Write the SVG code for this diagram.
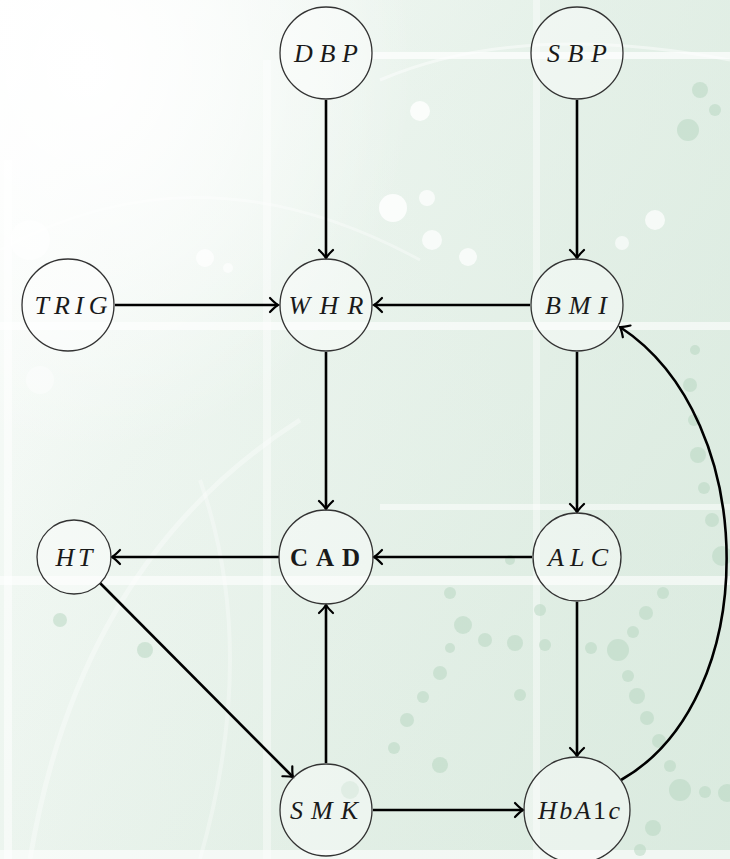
<svg xmlns="http://www.w3.org/2000/svg" width="730" height="859" viewBox="0 0 730 859">
  <defs>
    <linearGradient id="bgGrad" x1="0" y1="0" x2="1" y2="1">
      <stop offset="0" stop-color="#ffffff"/>
      <stop offset="0.35" stop-color="#f0f7f2"/>
      <stop offset="0.7" stop-color="#e6f1e9"/>
      <stop offset="1" stop-color="#dfede3"/>
    </linearGradient>
    <radialGradient id="glow" cx="0.12" cy="0.08" r="0.45">
      <stop offset="0" stop-color="#ffffff" stop-opacity="1"/>
      <stop offset="1" stop-color="#ffffff" stop-opacity="0"/>
    </radialGradient>
    <linearGradient id="rightTint" x1="0" y1="0" x2="1" y2="0">
      <stop offset="0" stop-color="#d4e7da" stop-opacity="0"/>
      <stop offset="1" stop-color="#d4e7da" stop-opacity="0.45"/>
    </linearGradient>
    <marker id="arrow" markerUnits="userSpaceOnUse" markerWidth="18" markerHeight="18" viewBox="-10 -9 12 18" refX="0" refY="0" orient="auto">
      <path d="M -8 -7 Q -3 -1.8 0 0 Q -3 1.8 -8 7" fill="none" stroke="#000" stroke-width="2.2" stroke-linecap="round"/>
    </marker>
  </defs>
  <style>
    .node circle { fill: #ffffff; fill-opacity: 0.4; stroke: #333333; stroke-width: 1.3; }
    .node text { font-family: "Liberation Serif", "DejaVu Serif", serif; font-style: italic; font-size: 26px; fill: #1a1a1a; text-anchor: middle; }
    .node text.bold { font-style: normal; font-weight: bold; font-size: 25px; }
    .up { font-style: normal; }
    .edges path, .edges line { stroke: #000; stroke-width: 2.6; fill: none; marker-end: url(#arrow); }
    .band { fill: #ffffff; }
    .dot { fill: #b6d6c0; }
    .bubble { fill: #ffffff; }
  </style>

  <!-- backdrop -->
  <g id="backdrop">
    <rect x="0" y="0" width="730" height="859" fill="url(#bgGrad)"/>
    <rect x="0" y="0" width="730" height="859" fill="url(#rightTint)"/>
    <rect x="0" y="0" width="730" height="859" fill="url(#glow)"/>
    <!-- light grid bands -->
    <rect class="band" x="370" y="52" width="360" height="7" opacity="0.7"/>
    <rect class="band" x="0" y="322" width="730" height="8" opacity="0.6"/>
    <rect class="band" x="0" y="576" width="730" height="9" opacity="0.6"/>
    <rect class="band" x="380" y="504" width="350" height="6" opacity="0.5"/>
    <rect class="band" x="0" y="850" width="730" height="9" opacity="0.6"/>
    <rect class="band" x="263" y="60" width="8" height="799" opacity="0.4"/>
    <rect class="band" x="533" y="0" width="7" height="859" opacity="0.4"/>
    <rect class="band" x="4" y="160" width="8" height="699" opacity="0.5"/>
    <!-- sweeping arcs -->
    <path d="M 30 859 Q 80 560 300 420" stroke="#ffffff" stroke-width="5" fill="none" opacity="0.35"/>
    <path d="M 200 859 Q 260 650 200 480" stroke="#ffffff" stroke-width="4" fill="none" opacity="0.3"/>
    <path d="M 0 250 Q 200 140 420 260" stroke="#ffffff" stroke-width="3" fill="none" opacity="0.35"/>
    <path d="M 380 80 Q 520 20 730 60" stroke="#ffffff" stroke-width="3" fill="none" opacity="0.45"/>
    <!-- bubbles -->
    <circle class="bubble" cx="420" cy="111" r="10" opacity="0.8"/>
    <circle class="bubble" cx="393" cy="208" r="14" opacity="0.8"/>
    <circle class="bubble" cx="427" cy="198" r="8" opacity="0.7"/>
    <circle class="bubble" cx="432" cy="240" r="10" opacity="0.7"/>
    <circle class="bubble" cx="468" cy="257" r="9" opacity="0.7"/>
    <circle class="bubble" cx="205" cy="258" r="9" opacity="0.7"/>
    <circle class="bubble" cx="228" cy="268" r="5" opacity="0.6"/>
    <circle class="bubble" cx="655" cy="220" r="10" opacity="0.7"/>
    <circle class="bubble" cx="622" cy="243" r="7" opacity="0.6"/>
    <circle class="bubble" cx="30" cy="240" r="20" opacity="0.5"/>
    <circle class="bubble" cx="40" cy="380" r="14" opacity="0.4"/>
    <!-- green dot trails -->
    <g class="dot" opacity="0.5">
      <circle cx="663" cy="593" r="6"/>
      <circle cx="646" cy="613" r="7"/>
      <circle cx="633" cy="632" r="6"/>
      <circle cx="618" cy="650" r="11"/>
      <circle cx="628" cy="676" r="6"/>
      <circle cx="637" cy="696" r="8"/>
      <circle cx="647" cy="718" r="7"/>
      <circle cx="659" cy="741" r="7"/>
      <circle cx="670" cy="766" r="6"/>
      <circle cx="680" cy="790" r="11"/>
      <circle cx="705" cy="792" r="6"/>
      <circle cx="727" cy="793" r="9"/>
      <circle cx="653" cy="828" r="8"/>
      <circle cx="640" cy="850" r="6"/>
      <circle cx="485" cy="640" r="7"/>
      <circle cx="515" cy="643" r="8"/>
      <circle cx="545" cy="645" r="6"/>
      <circle cx="591" cy="648" r="6"/>
      <circle cx="450" cy="593" r="6"/>
      <circle cx="463" cy="625" r="9"/>
      <circle cx="450" cy="648" r="5"/>
      <circle cx="440" cy="673" r="7"/>
      <circle cx="423" cy="697" r="6"/>
      <circle cx="407" cy="720" r="7"/>
      <circle cx="394" cy="748" r="6"/>
      <circle cx="510" cy="560" r="5"/>
      <circle cx="540" cy="610" r="6"/>
      <circle cx="722" cy="556" r="10"/>
      <circle cx="712" cy="520" r="7"/>
      <circle cx="704" cy="488" r="6"/>
      <circle cx="698" cy="455" r="8"/>
      <circle cx="694" cy="420" r="6"/>
      <circle cx="690" cy="385" r="7"/>
      <circle cx="695" cy="350" r="5"/>
      <circle cx="700" cy="90" r="8"/>
      <circle cx="688" cy="130" r="11"/>
      <circle cx="715" cy="110" r="6"/>
      <circle cx="60" cy="620" r="7"/>
      <circle cx="145" cy="650" r="8"/>
      <circle cx="350" cy="790" r="9"/>
      <circle cx="440" cy="765" r="8"/>
      <circle cx="520" cy="695" r="6"/>
    </g>
  </g>

  <!-- connectors -->
  <g id="edges" class="edges">
    <line x1="326" y1="100" x2="326" y2="258"/>
    <line x1="577" y1="100" x2="577" y2="258"/>
    <line x1="115" y1="305" x2="278" y2="305"/>
    <line x1="530" y1="305" x2="374" y2="305"/>
    <line x1="326" y1="352" x2="326" y2="509"/>
    <line x1="577" y1="352" x2="577" y2="512"/>
    <line x1="532" y1="557" x2="374" y2="557"/>
    <line x1="279" y1="557" x2="112" y2="557"/>
    <line x1="100" y1="583" x2="293" y2="777"/>
    <line x1="326" y1="763" x2="326" y2="605"/>
    <line x1="373" y1="810" x2="523" y2="810"/>
    <line x1="577" y1="602" x2="577" y2="756"/>
    <path d="M 621 780 C 762 700, 762 420, 620 327"/>
  </g>

  <!-- nodes -->
  <g id="node-DBP" class="node">
    <circle cx="326" cy="53" r="46"/>
    <text x="326" y="62" textLength="64" lengthAdjust="spacing">DBP</text>
  </g>
  <g id="node-SBP" class="node">
    <circle cx="577" cy="53" r="46"/>
    <text x="577" y="62" textLength="60" lengthAdjust="spacing">SBP</text>
  </g>
  <g id="node-TRIG" class="node">
    <circle cx="68" cy="305" r="46"/>
    <text x="71" y="314" textLength="73" lengthAdjust="spacing">TRIG</text>
  </g>
  <g id="node-WHR" class="node">
    <circle cx="326" cy="305" r="46"/>
    <text x="326" y="314" textLength="75" lengthAdjust="spacing">WHR</text>
  </g>
  <g id="node-BMI" class="node">
    <circle cx="577" cy="305" r="46"/>
    <text x="576" y="314" textLength="62" lengthAdjust="spacing">BMI</text>
  </g>
  <g id="node-HT" class="node">
    <circle cx="74" cy="557" r="37"/>
    <text x="74" y="566" textLength="37" lengthAdjust="spacing">HT</text>
  </g>
  <g id="node-CAD" class="node">
    <circle cx="326" cy="557" r="47"/>
    <text class="bold" x="325" y="566" textLength="70" lengthAdjust="spacing">CAD</text>
  </g>
  <g id="node-ALC" class="node">
    <circle cx="577" cy="557" r="44"/>
    <text x="578" y="566" textLength="60" lengthAdjust="spacing">ALC</text>
  </g>
  <g id="node-SMK" class="node">
    <circle cx="326" cy="810" r="46"/>
    <text x="324" y="819" textLength="68" lengthAdjust="spacing">SMK</text>
  </g>
  <g id="node-HbA1c" class="node">
    <circle cx="577" cy="810" r="53"/>
    <text x="579" y="819" textLength="82" lengthAdjust="spacing">HbA<tspan class="up">1</tspan>c</text>
  </g>
</svg>
